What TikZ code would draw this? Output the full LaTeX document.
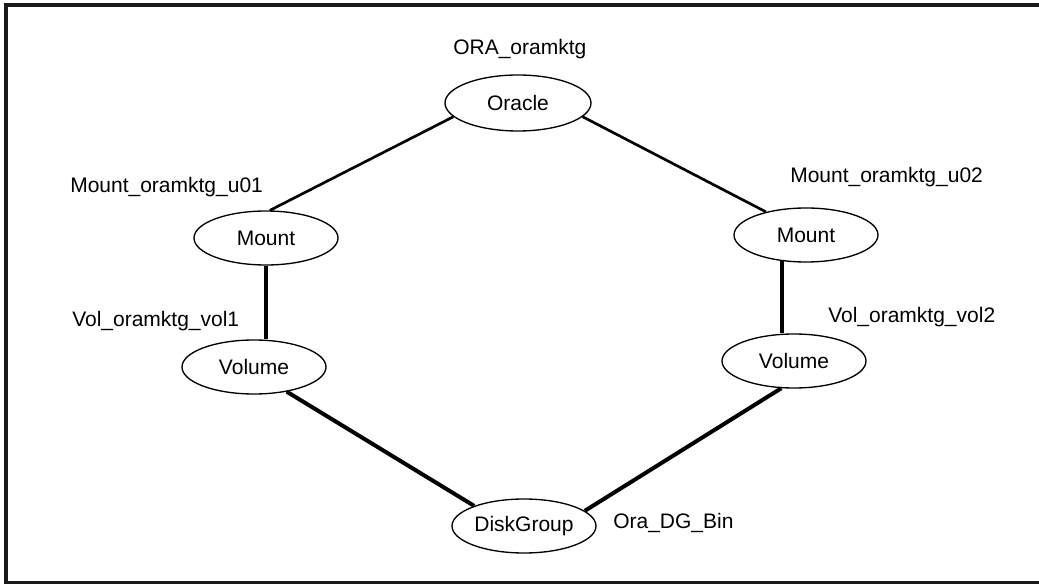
\documentclass[tikz,border=0pt]{standalone}
\usepackage{fontspec}
\setmainfont{Liberation Sans}
\usetikzlibrary{shapes.geometric}
\begin{document}
\begin{tikzpicture}[x=0.75pt,y=-0.75pt,
  res/.style={draw, ellipse, line width=1pt, inner sep=0pt,
    minimum width=108pt, minimum height=40.5pt,
    font=\fontsize{15.75}{18}\selectfont},
  lbl/.style={anchor=base west, inner sep=0pt,
    font=\fontsize{15.75}{18}\selectfont},
  thin link/.style={line width=2pt},
  thick link/.style={line width=3pt},
  frame/.style={line width=3pt, color=black!90}]
\useasboundingbox (0,0) rectangle (1039,584);
\draw[frame] (1039,5) -- (6,5) -- (6,582.5) -- (1039,582.5);

\node[res, minimum width=109.5pt, minimum height=42pt] (ora) at (518,103) {Oracle};
\node[res] (lm) at (266,238) {Mount};
\node[res] (rm) at (806,235) {Mount};
\node[res] (lv) at (254,367) {Volume};
\node[res] (rv) at (794,361) {Volume};
\node[res] (dg) at (524,526) {DiskGroup};

\node[lbl] (tora) at (453,55) {ORA\_oramktg};
\node[lbl] (tlm) at (70,193) {Mount\_oramktg\_u01};
\node[lbl] (trm) at (790,183) {Mount\_oramktg\_u02};
\node[lbl] (tlv) at (72,327) {Vol\_oramktg\_vol1};
\node[lbl] (trv) at (828,323) {Vol\_oramktg\_vol2};
\node[lbl] (tdg) at (613,528) {Ora\_DG\_Bin};

\draw[thin link] (ora.192.5) -- (lm.82);
\draw[thin link] (ora.348) -- (rm.150.6);
\draw[thick link] (lm.south) -- (lm.south |- lv.north);
\draw[thick link] (rm.228) -- (rm.228 |- rv.north);
\draw[thick link] (lv.323.4) -- (dg.158.8);
\draw[thick link] (rv.245.2) -- (dg.14.5);
\end{tikzpicture}
\end{document}
